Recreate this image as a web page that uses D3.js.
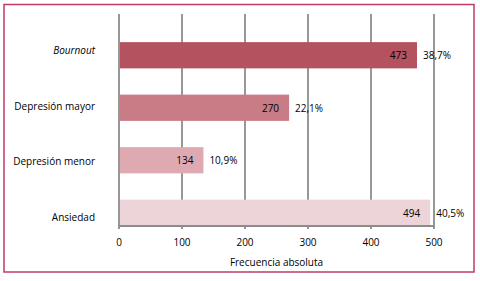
<!DOCTYPE html>
<html>
<head>
<meta charset="utf-8">
<script src="https://cdn.jsdelivr.net/npm/d3@7"></script>
<style>
  body { margin: 0; background: #fff; }
  text { font-family: "Open Sans", sans-serif; fill: #000; }
</style>
</head>
<body>
<div id="canvas"></div>
<script>
"use strict"

// DATA

let categories = ["Bournout", "Depresión mayor", "Depresión menor", "Ansiedad"];
let counts = [473, 270, 134, 494];
let percents = ["38,7%", "22,1%", "10,9%", "40,5%"];
let barColors = ["#b5525f", "#c97b86", "#dea9b1", "#ecd4d8"];
let ticks = [0, 100, 200, 300, 400, 500];


// CONFIGURATION

let svgWidth = 480;
let svgHeight = 281;
let plotLeft = 119;
let plotRight = 434;
let plotTop = 14;
let plotBottom = 226;


// CREATE SVG

let svg = d3.select("#canvas")
    .append("svg")
    .attr("width", svgWidth)
    .attr("height", svgHeight);

// outer frame
svg.append("rect")
    .attr("x", 4)
    .attr("y", 4.5)
    .attr("width", 470)
    .attr("height", 267.5)
    .attr("fill", "none")
    .attr("stroke", "#c03a68")
    .attr("stroke-width", 1.5);


// SCALES

let xScale = d3.scaleLinear()
    .domain([0, 500])
    .range([plotLeft, plotRight]);

let yScale = d3.scaleBand()
    .domain(categories)
    .range([29, 239])
    .paddingInner(0.5)
    .paddingOuter(0.25);

// category labels sit on a slightly wider spacing than the bars
let labelScale = d3.scalePoint()
    .domain(categories)
    .range([50, 217]);


// GRIDLINES

svg.selectAll("line.grid")
    .data(ticks)
    .join("line")
    .attr("class", "grid")
    .attr("x1", function(d) { return xScale(d); })
    .attr("x2", function(d) { return xScale(d); })
    .attr("y1", plotTop)
    .attr("y2", plotBottom + 3)
    .attr("stroke", "#8c8c8c")
    .attr("stroke-width", 1.8);


// BARS

svg.selectAll("rect.bar")
    .data(categories)
    .join("rect")
    .attr("class", "bar")
    .attr("x", xScale(0) + 1)
    .attr("y", function(d) { return yScale(d); })
    .attr("width", function(d, i) { return xScale(counts[i]) - xScale(0) - 1; })
    .attr("height", yScale.bandwidth())
    .attr("fill", function(d, i) { return barColors[i]; });

// bottom axis line
svg.append("line")
    .attr("x1", plotLeft)
    .attr("x2", plotRight)
    .attr("y1", plotBottom)
    .attr("y2", plotBottom)
    .attr("stroke", "#8c8c8c")
    .attr("stroke-width", 1.8);


// VALUE LABELS

svg.selectAll("text.count")
    .data(categories)
    .join("text")
    .attr("class", "count")
    .attr("x", function(d, i) { return xScale(counts[i]) - 10; })
    .attr("y", function(d) { return yScale(d) + yScale.bandwidth() / 2 + 4; })
    .attr("text-anchor", "end")
    .style("font-size", "10px")
    .text(function(d, i) { return counts[i]; });

svg.selectAll("text.pct")
    .data(categories)
    .join("text")
    .attr("class", "pct")
    .attr("x", function(d, i) { return xScale(counts[i]) + 6; })
    .attr("y", function(d) { return yScale(d) + yScale.bandwidth() / 2 + 4; })
    .style("font-size", "10px")
    .text(function(d, i) { return percents[i]; });


// CATEGORY LABELS

svg.selectAll("text.cat")
    .data(categories)
    .join("text")
    .attr("class", "cat")
    .attr("x", 95)
    .attr("y", function(d) { return labelScale(d) + 4; })
    .attr("text-anchor", "end")
    .style("font-size", "10px")
    .style("font-style", function(d, i) { return i === 0 ? "italic" : "normal"; })
    .text(function(d) { return d; });


// TICK LABELS

svg.selectAll("text.tick")
    .data(ticks)
    .join("text")
    .attr("class", "tick")
    .attr("x", function(d) { return xScale(d); })
    .attr("y", 246)
    .attr("text-anchor", "middle")
    .style("font-size", "10px")
    .text(function(d) { return d; });


// AXIS TITLE

svg.append("text")
    .attr("x", (plotLeft + plotRight) / 2)
    .attr("y", 266)
    .attr("text-anchor", "middle")
    .style("font-size", "10px")
    .text("Frecuencia absoluta");
</script>
</body>
</html>
